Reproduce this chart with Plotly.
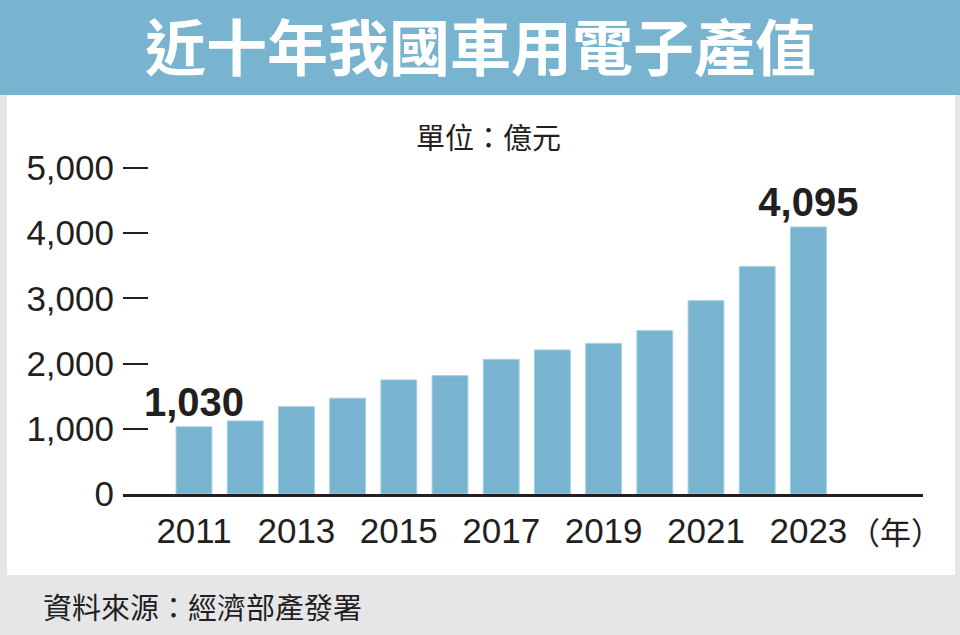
import plotly.graph_objects as go

years = [2011, 2012, 2013, 2014, 2015, 2016, 2017, 2018, 2019, 2020, 2021, 2022, 2023]
values = [1030, 1120, 1340, 1470, 1750, 1815, 2065, 2210, 2310, 2505, 2965, 3490, 4095]
bar_labels = ["1,030", "", "", "", "", "", "", "", "", "", "", "", "4,095"]
x_tick_years = [2011, 2013, 2015, 2017, 2019, 2021, 2023]
y_tick_vals = [0, 1000, 2000, 3000, 4000, 5000]
y_tick_text = ["0", "1,000", "2,000", "3,000", "4,000", "5,000"]

title_text = "近十年我國車用電子產值"
unit_text = "單位：億元"
year_unit = "（年）"
source_text = "資料來源：經濟部產發署"

W, H = 960, 635
L, R = 123, 923          # plot area left/right in px
T, B = 150, 494          # plot area top/bottom in px
PW, PH = R - L, B - T


def fx(px):
    return (px - L) / PW


def fy(py):
    return (B - py) / PH


FONT = "Liberation Sans, Arial, Noto Sans CJK TC, sans-serif"
CJK = "Noto Sans CJK TC, Noto Sans CJK JP, sans-serif"
DARK = "#231F20"
BLUE = "#78B4D0"

fig = go.Figure()
fig.add_trace(go.Bar(
    x=years, y=values, width=0.7,
    marker=dict(color=BLUE, line=dict(color="#A6CFE2", width=1)),
    text=bar_labels, textposition="outside", constraintext="none",
    textfont=dict(family=FONT, size=40, color=DARK, weight="bold"),
    cliponaxis=False, hoverinfo="skip",
))

px_per_unit = 326 / 5000
ymax = PH / px_per_unit
x0 = 2011 - (194 - L) / 51.2
x1 = 2011 + (R - 194) / 51.2

fig.update_layout(
    width=W, height=H,
    margin=dict(l=L, r=W - R, t=T, b=H - B, pad=0),
    paper_bgcolor="#E6E6E8", plot_bgcolor="rgba(0,0,0,0)",
    showlegend=False,
    font=dict(family=FONT, color=DARK),
    xaxis=dict(range=[x0, x1], tickvals=x_tick_years, ticktext=[str(y) for y in x_tick_years],
               showgrid=False, zeroline=False, showline=True, linecolor=DARK, linewidth=2.5,
               ticks="", tickfont=dict(family=FONT, size=35, color=DARK), ticklabelstandoff=4,
               fixedrange=True),
    yaxis=dict(range=[0, ymax], tickvals=y_tick_vals, ticktext=y_tick_text,
               showgrid=False, zeroline=False, showline=False,
               ticks="inside", ticklen=25, tickwidth=1.5, tickcolor=DARK,
               tickfont=dict(family=FONT, size=35, color=DARK), ticklabelstandoff=8,
               fixedrange=True),
    shapes=[
        dict(type="rect", xref="paper", yref="paper", layer="below",
             x0=fx(7), x1=fx(955), y0=fy(575), y1=fy(95), fillcolor="white", line=dict(width=0)),
        dict(type="rect", xref="paper", yref="paper", layer="below",
             x0=fx(0), x1=fx(960), y0=fy(95), y1=fy(0), fillcolor=BLUE, line=dict(width=0)),
    ],
    annotations=[
        dict(text=title_text, xref="paper", yref="paper", x=fx(480), y=fy(45),
             xanchor="center", yanchor="middle", showarrow=False,
             font=dict(family=CJK, size=61, color="white", weight="bold")),
        dict(text=unit_text, xref="paper", yref="paper", x=fx(488), y=fy(136),
             xanchor="center", yanchor="middle", showarrow=False,
             font=dict(family=CJK, size=29, color=DARK)),
        dict(text=year_unit, xref="paper", yref="paper", x=fx(895), y=fy(530),
             xanchor="center", yanchor="middle", showarrow=False,
             font=dict(family=CJK, size=31, color=DARK)),
        dict(text=source_text, xref="paper", yref="paper", x=fx(41), y=fy(606),
             xanchor="left", yanchor="middle", showarrow=False,
             font=dict(family=CJK, size=29, color=DARK)),
    ],
)

fig.write_html("out.html", config={"displayModeBar": False},
               post_script="document.body.style.margin='0';document.body.style.padding='0';")
